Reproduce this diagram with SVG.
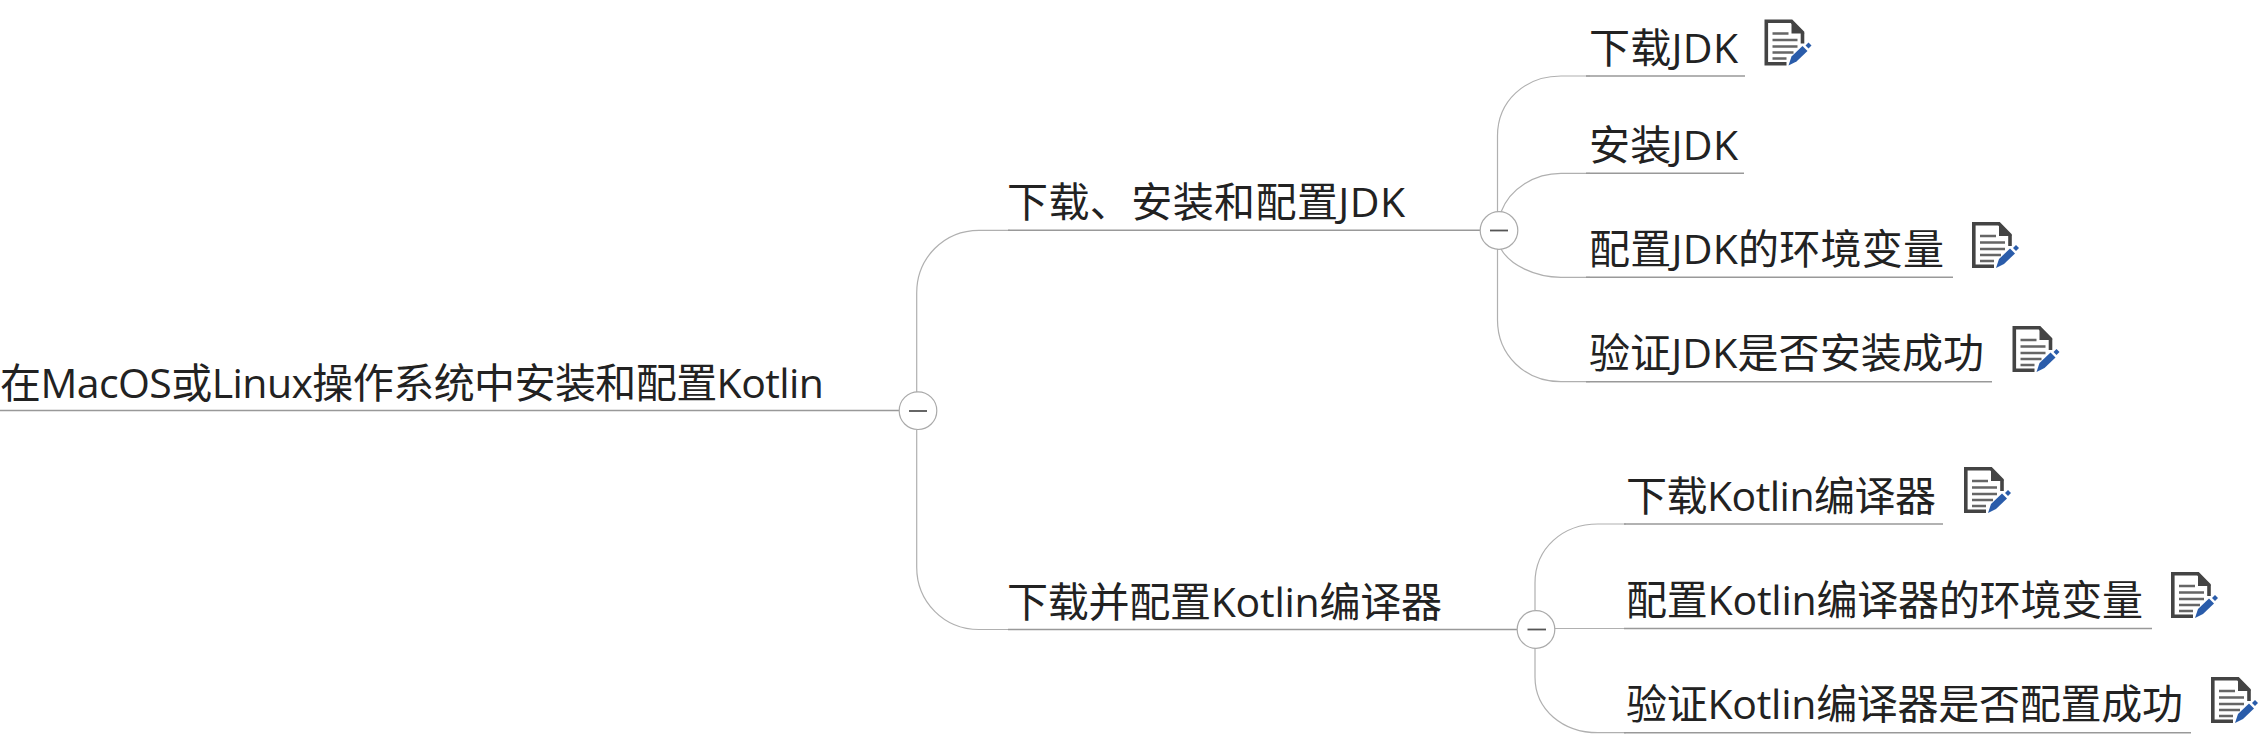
<svg xmlns="http://www.w3.org/2000/svg" width="2266" height="750" viewBox="0 0 2266 750">
<style>
text{font-family:"Open Sans","Noto Sans CJK SC",sans-serif;font-size:41px;font-weight:400;fill:#222}
.c{fill:none;stroke:#b0b0b0;stroke-width:1.2}
.u{fill:none;stroke:#999;stroke-width:1.5}
.t{fill:#fff;stroke:#aaa;stroke-width:1.2}
.m{stroke:#555;stroke-width:1.8}
</style>
<defs>
<g id="note">
<path d="M38 24V13L27 1.8H1.8V44.200H22" fill="none" stroke="#444" stroke-width="3.600"/>
<path d="M27 1.500L40 14H27Z" fill="#444"/>
<path d="M8 14H24M8 20.500H33M8 27H33M8 33H29M8 39H22" stroke="#666" stroke-width="2.600" fill="none"/>
<path d="M24 46L27 37L38 26.500L43 31.500L32 42Z" fill="#2a5caa"/>
<path d="M41 26L44 23L47 26L44 29Z" fill="#2a5caa"/>
</g>
</defs>
<rect width="2266" height="750" fill="#fff"/>
<g id="connectors">
<path class="c" d="M899 410.500H917"/>
<path class="c" d="M916.700 392V293C916.700 258 944 230.300 979 230.300H1010"/>
<path class="c" d="M916.700 430V567C916.700 602 944 629.500 979 629.500H1008"/>
<path class="u" d="M1008 230.300H1480"/>
<path class="u" d="M1008 629.500H1517"/>
<path class="c" d="M1497.500 212V136C1497.500 101 1525 76 1561 76H1590"/>
<path class="c" d="M1501 212C1510 188 1535 173.300 1561 173.300H1590"/>
<path class="c" d="M1501 249C1510 265 1535 277.300 1561 277.300H1590"/>
<path class="c" d="M1497.500 249V320C1497.500 355 1525 381.700 1561 381.700H1590"/>
<path class="c" d="M1535 610V583C1535 548 1563 524 1598 524H1626"/>
<path class="c" d="M1555 628.500H1626"/>
<path class="c" d="M1535 648V677C1535 710 1563 732.700 1598 732.700H1626"/>
</g>
<g id="root"><path class="u" d="M0 410.500H899"/><text x="0" y="398" textLength="824">在MacOS或Linux操作系统中安装和配置Kotlin</text></g>
<g id="toggle-root"><circle class="t" cx="918" cy="410.700" r="18.800"/><path class="m" d="M909 411H927"/></g>
<g id="branch-jdk"><text x="1007" y="217" textLength="398">下载、安装和配置JDK</text></g>
<g id="toggle-jdk"><circle class="t" cx="1499" cy="230.500" r="18.800"/><path class="m" d="M1490 230.500H1508"/></g>
<g id="branch-kotlin"><text x="1007" y="617" textLength="435">下载并配置Kotlin编译器</text></g>
<g id="toggle-kotlin"><circle class="t" cx="1536" cy="629.500" r="18.800"/><path class="m" d="M1527.500 629.500H1546"/></g>
<g id="jdk-1"><path class="u" d="M1586 76H1745"/><text x="1589" y="63" textLength="149">下载JDK</text><use href="#note" x="1764.500" y="19.500"/></g>
<g id="jdk-2"><path class="u" d="M1586 173.300H1744"/><text x="1589" y="160" textLength="149">安装JDK</text></g>
<g id="jdk-3"><path class="u" d="M1586 277.300H1953"/><text x="1589" y="264" textLength="355">配置JDK的环境变量</text><use href="#note" x="1972" y="222"/></g>
<g id="jdk-4"><path class="u" d="M1586 381.700H1992"/><text x="1589" y="368" textLength="395">验证JDK是否安装成功</text><use href="#note" x="2012.500" y="326"/></g>
<g id="kotlin-1"><path class="u" d="M1624 524H1943"/><text x="1626" y="511" textLength="310">下载Kotlin编译器</text><use href="#note" x="1964" y="467"/></g>
<g id="kotlin-2"><path class="u" d="M1624 628.500H2152"/><text x="1626" y="615" textLength="517">配置Kotlin编译器的环境变量</text><use href="#note" x="2171" y="572"/></g>
<g id="kotlin-3"><path class="u" d="M1624 732.700H2191"/><text x="1626" y="719" textLength="557">验证Kotlin编译器是否配置成功</text><use href="#note" x="2211" y="677"/></g>
</svg>
